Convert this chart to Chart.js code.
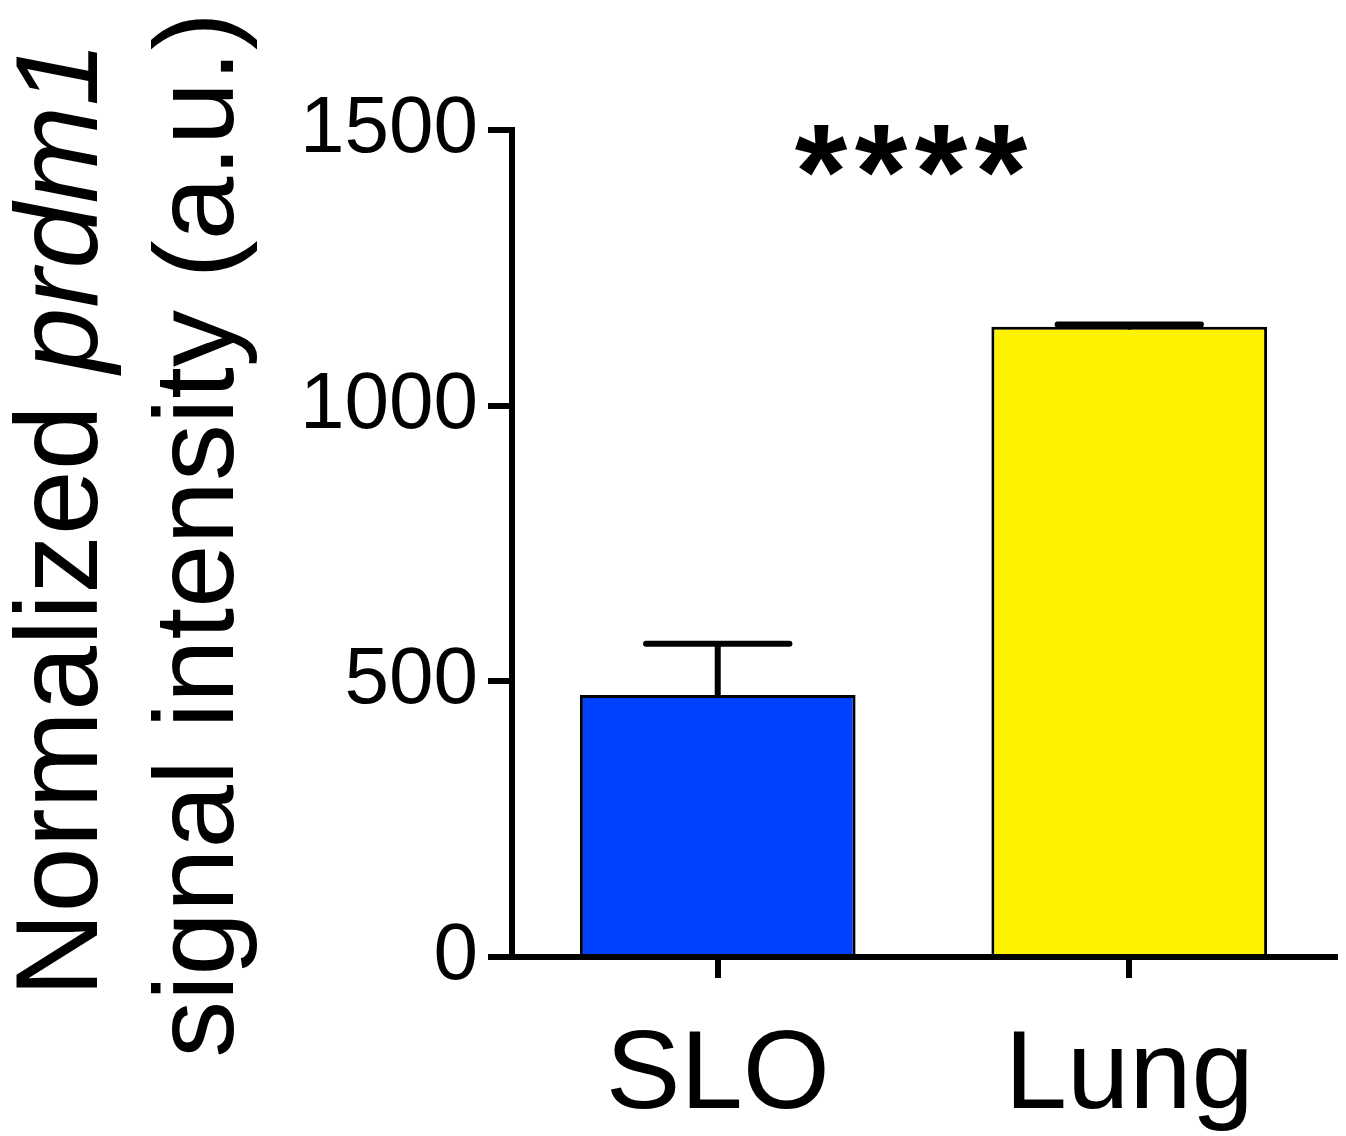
<!DOCTYPE html>
<html>
<head>
<meta charset="utf-8">
<script src="https://cdn.jsdelivr.net/npm/chart.js@4.4.0/dist/chart.umd.min.js"></script>
<style>
  html, body { margin: 0; padding: 0; background: #fff; }
  #wrap { width: 1346px; height: 1136px; }
</style>
</head>
<body>
<div id="wrap"><canvas id="prdm1Chart"></canvas></div>
<script>
// values
const categories = ["SLO", "Lung"];
const means = [475, 1143];
const sem = [93, 4];
const barColors = ["#0040ff", "#fff200"];
const yTicks = [0, 500, 1000, 1500];
const significance = "****";

const FONT = "'Liberation Sans', Arial, Helvetica, sans-serif";

// error bars (upper half only, like the original)
const errorBars = {
  id: "errorBars",
  afterDatasetsDraw(chart) {
    const { ctx } = chart;
    const y = chart.scales.y;
    const meta = chart.getDatasetMeta(0);
    ctx.save();
    ctx.strokeStyle = "#000";
    ctx.lineWidth = 6;
    ctx.lineCap = "round";
    meta.data.forEach((bar, i) => {
      const top = y.getPixelForValue(means[i] + sem[i]);
      const base = y.getPixelForValue(means[i]);
      const half = bar.width * 0.26;
      ctx.beginPath();
      ctx.moveTo(bar.x, base);
      ctx.lineTo(bar.x, top);
      ctx.moveTo(bar.x - half, top);
      ctx.lineTo(bar.x + half, top);
      ctx.stroke();
    });
    ctx.restore();
  }
};

// y title with italic gene name + significance stars
const annotations = {
  id: "annotations",
  afterDraw(chart) {
    const { ctx } = chart;
    const x = chart.scales.x;
    const y = chart.scales.y;
    ctx.save();
    ctx.fillStyle = "#000";

    // stars, drawn one by one to get the wider spacing
    ctx.font = "bold 135px " + FONT;
    ctx.textAlign = "center";
    ctx.textBaseline = "alphabetic";
    const cx = x.getPixelForValue(0.47);
    const sy = y.getPixelForValue(1340);
    const step = 60;
    for (let i = 0; i < significance.length; i++) {
      ctx.fillText(significance[i], cx + (i - (significance.length - 1) / 2) * step, sy);
    }

    // rotated axis title
    const normal1 = "117px " + FONT;
    const italic1 = "italic 117px " + FONT;
    const normal2 = "114px " + FONT;
    ctx.textAlign = "left";

    ctx.save();
    ctx.translate(97, 519);
    ctx.rotate(-Math.PI / 2);
    ctx.font = normal1;
    const w1 = ctx.measureText("Normalized ").width;
    ctx.font = italic1;
    const w2 = ctx.measureText("prdm1").width;
    const start = -(w1 + w2) / 2;
    ctx.font = normal1;
    ctx.fillText("Normalized ", start, 0);
    ctx.font = italic1;
    ctx.fillText("prdm1", start + w1, 0);
    ctx.restore();

    ctx.save();
    ctx.translate(233, 535);
    ctx.rotate(-Math.PI / 2);
    ctx.font = normal2;
    ctx.textAlign = "center";
    ctx.fillText("signal intensity (a.u.)", 0, 0);
    ctx.restore();

    ctx.restore();
  }
};

const ctx = document.getElementById("prdm1Chart").getContext("2d");

new Chart(ctx, {
  type: "bar",
  data: {
    labels: categories,
    datasets: [{
      label: "prdm1",
      data: means,
      backgroundColor: barColors,
      borderColor: "#000",
      borderWidth: 3,
      borderSkipped: "bottom",
      barPercentage: 0.67,
      categoryPercentage: 1.0
    }]
  },
  options: {
    responsive: true,
    maintainAspectRatio: false,
    animation: false,
    devicePixelRatio: 1,
    // the x labels need extra room below the ticks, the bottom padding takes it back
    layout: { padding: { left: 290, right: 11, top: 130, bottom: -40 } },
    plugins: {
      legend: { display: false },
      tooltip: { enabled: false },
      title: { display: false }
    },
    scales: {
      x: {
        grid: {
          offset: false,
          drawOnChartArea: false,
          color: "#000",
          lineWidth: 6,
          tickLength: 21,
          tickWidth: 6
        },
        border: { display: true, color: "#000", width: 6 },
        ticks: {
          color: "#000",
          padding: 43,
          font: { family: FONT, size: 112, lineHeight: 1.0 }
        }
      },
      y: {
        min: 0,
        max: 1500,
        afterBuildTicks(axis) {
          axis.ticks = yTicks.map(v => ({ value: v }));
        },
        grid: {
          drawOnChartArea: false,
          color: "#000",
          lineWidth: 6,
          tickLength: 24,
          tickWidth: 6
        },
        border: { display: true, color: "#000", width: 6 },
        ticks: {
          color: "#000",
          padding: 10,
          font: { family: FONT, size: 80, lineHeight: 0.2 },
          callback: v => String(v)
        }
      }
    }
  },
  plugins: [errorBars, annotations]
});
</script>
</body>
</html>
